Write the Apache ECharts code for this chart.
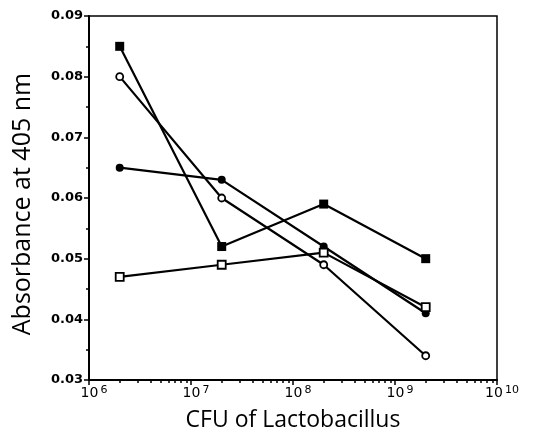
<!DOCTYPE html>
<html>
<head>
<meta charset="utf-8">
<script src="https://cdn.jsdelivr.net/npm/echarts@6/dist/echarts.min.js"></script>
<style>html,body{margin:0;padding:0;background:#fff}#c{width:539px;height:432px}</style>
</head>
<body>
<div id="c"></div>
<script>
const cfu = [2e6, 2e7, 2e8, 2e9];
const filledSquare = [0.085, 0.052, 0.059, 0.050];
const openCircle = [0.080, 0.060, 0.049, 0.034];
const filledCircle = [0.065, 0.063, 0.052, 0.041];
const openSquare = [0.047, 0.049, 0.051, 0.042];
const yTicks = [0.03, 0.04, 0.05, 0.06, 0.07, 0.08, 0.09];
const xMajorTicks = [1e6, 1e7, 1e8, 1e9, 1e10];
const xMinorTicks = [2e6,3e6,4e6,5e6,6e6,7e6,8e6,9e6,2e7,3e7,4e7,5e7,6e7,7e7,8e7,9e7,2e8,3e8,4e8,5e8,6e8,7e8,8e8,9e8,2e9,3e9,4e9,5e9,6e9,7e9,8e9,9e9];

const pair = (ys) => cfu.map((x, i) => [x, ys[i]]);
const lineStyle = { color: '#000', width: 2.2 };
function mk(name, ys, symbol, filled, size) {
  return {
    name, type: 'line', data: pair(ys), symbol, symbolSize: size,
    lineStyle, showSymbol: true,
    itemStyle: { color: filled ? '#000' : '#fff', borderColor: '#000', borderWidth: filled ? 0 : 1.8 },
    emphasis: { disabled: true }, animation: false
  };
}

const chart = echarts.init(document.getElementById('c'), null, { renderer: 'canvas' });
chart.setOption({
  animation: false,
  grid: { left: 89, right: 42, top: 16, bottom: 52, containLabel: false, outerBoundsMode: 'none', show: true, borderColor: '#000', borderWidth: 1.5, backgroundColor: 'transparent' },
  xAxis: [{
    type: 'log', logBase: 10, min: xMajorTicks[0], max: xMajorTicks[xMajorTicks.length - 1],
    name: 'CFU of Lactobacillus', nameLocation: 'middle', nameGap: 29,
    nameTextStyle: { fontFamily: 'Open Sans', fontSize: 23, color: '#000' },
    axisLine: { lineStyle: { color: '#000', width: 2 } },
    axisTick: { show: true, length: 5, lineStyle: { color: '#000', width: 1.5 }, customValues: xMajorTicks },
    axisLabel: {
      customValues: xMajorTicks, margin: 5,
      formatter: (v) => '{b|10}{s|' + Math.round(Math.log10(v)) + '}',
      rich: {
        b: { fontFamily: 'DejaVu Sans', fontSize: 14, color: '#000', padding: [0, 2, 0, 10] },
        s: { fontFamily: 'DejaVu Sans', fontSize: 11, color: '#000', verticalAlign: 'top', padding: [0, 0, 6, 0] }
      }
    },
    splitLine: { show: false }
  }, {
    type: 'log', logBase: 10, min: xMajorTicks[0], max: xMajorTicks[xMajorTicks.length - 1],
    position: 'bottom', gridIndex: 0,
    axisLine: { show: false },
    axisTick: { show: true, length: 3, lineStyle: { color: '#000', width: 1.5 }, customValues: xMinorTicks },
    axisLabel: { show: false },
    splitLine: { show: false }
  }],
  yAxis: {
    type: 'value', min: yTicks[0], max: yTicks[yTicks.length - 1], interval: 0.01,
    name: 'Absorbance at 405 nm', nameLocation: 'middle', nameGap: 54,
    nameTextStyle: { fontFamily: 'Open Sans', fontSize: 25, color: '#000', padding: [0, 12, 0, 0] },
    axisLine: { show: true, lineStyle: { color: '#000', width: 2 } },
    axisTick: { show: true, length: 5, lineStyle: { color: '#000', width: 1.5 } },
    minorTick: { show: true, splitNumber: 2, length: 3, lineStyle: { color: '#000', width: 1.5 } },
    axisLabel: { margin: 6, fontFamily: 'DejaVu Sans', fontWeight: 'bold', fontSize: 13, color: '#000', formatter: (v) => v.toFixed(2) },
    splitLine: { show: false }
  },
  series: [
    mk('filledSquare', filledSquare, 'rect', true, 9),
    mk('openCircle', openCircle, 'circle', false, 7),
    mk('filledCircle', filledCircle, 'circle', true, 8),
    mk('openSquare', openSquare, 'rect', false, 8)
  ]
});
</script>
</body>
</html>
